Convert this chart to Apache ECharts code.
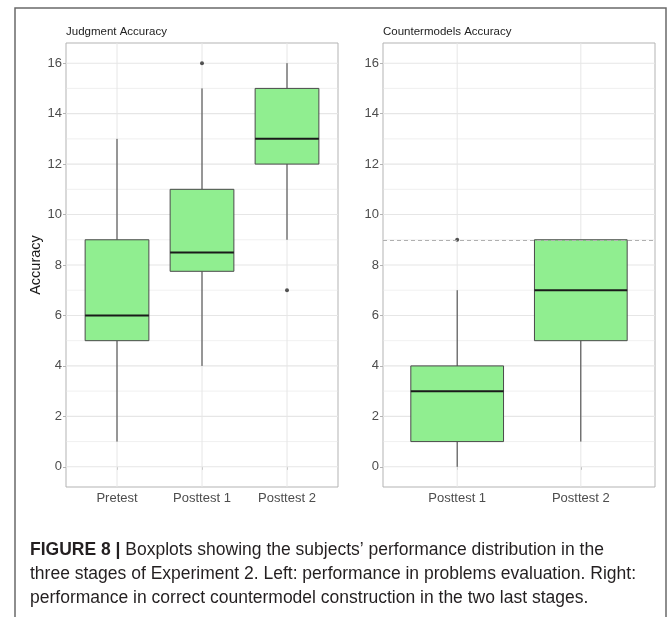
<!DOCTYPE html>
<html>
<head>
<meta charset="utf-8">
<script src="https://cdn.jsdelivr.net/npm/echarts@6/dist/echarts.min.js"></script>
<style>html,body{margin:0;padding:0;background:#fff;}#c{width:670px;height:617px;}</style>
</head>
<body>
<div id="c"></div>
<script>
// ---- data ----
const leftTitle = 'Judgment Accuracy';
const rightTitle = 'Countermodels Accuracy';
const leftCategories = ['Pretest', 'Posttest 1', 'Posttest 2'];
// [low whisker, Q1, median, Q3, high whisker]
const leftBoxes = [[1, 5, 6, 9, 13], [4, 7.75, 8.5, 11, 15], [9, 12, 13, 15, 16]];
const leftOutliers = [['Posttest 1', 16], ['Posttest 2', 7]];
const rightCategories = ['Posttest 1', 'Posttest 2'];
const rightBoxes = [[0, 1, 3, 4, 7], [1, 5, 7, 9, 9]];
const rightOutliers = [['Posttest 1', 9]];
const rightRefLine = 9;
const yTicks = [0, 2, 4, 6, 8, 10, 12, 14, 16];
const yMinorTicks = [1, 3, 5, 7, 9, 11, 13, 15];
const yAxisName = 'Accuracy';
const captionBold = 'FIGURE 8 |';
const captionLines = [
  ' Boxplots showing the subjects\u2019 performance distribution in the',
  'three stages of Experiment 2. Left: performance in problems evaluation. Right:',
  'performance in correct countermodel construction in the two last stages.'
];

// ---- layout / style ----
const FONT = '"Liberation Sans", Arial, Helvetica, sans-serif';
const Y_MIN = -0.8, Y_MAX = 16.8;
const GRID_COLOR = '#e6e6e6';
const BORDER_COLOR = '#b3b3b3';
const LABEL_COLOR = '#4d4d4d';

function xRange(cats) { return [0.4, cats.length + 0.6]; }

function hLineSeries(idx, values, xr, width) {
  return {
    type: 'custom', xAxisIndex: idx, yAxisIndex: idx, z: 1, silent: true,
    data: values.map(v => [v]),
    encode: { y: 0 },
    renderItem: function (params, api) {
      const v = api.value(0);
      const p1 = api.coord([xr[0], v]);
      const p2 = api.coord([xr[1], v]);
      return { type: 'line', shape: { x1: p1[0], y1: p1[1], x2: p2[0], y2: p2[1] },
        style: { stroke: GRID_COLOR, lineWidth: width } };
    }
  };
}
function vLineSeries(idx, n) {
  const d = [];
  for (let i = 1; i <= n; i++) d.push([i]);
  return {
    type: 'custom', xAxisIndex: idx, yAxisIndex: idx, z: 1, silent: true,
    data: d, encode: { x: 0 },
    renderItem: function (params, api) {
      const v = api.value(0);
      const p1 = api.coord([v, Y_MIN]);
      const p2 = api.coord([v, Y_MAX]);
      return { type: 'line', shape: { x1: p1[0], y1: p1[1], x2: p2[0], y2: p2[1] },
        style: { stroke: GRID_COLOR, lineWidth: 1 } };
    }
  };
}
function boxSeries(idx, boxes, extra) {
  const s = {
    type: 'custom', xAxisIndex: idx, yAxisIndex: idx, z: 3, silent: true,
    data: boxes.map((b, i) => [i + 1].concat(b)),
    encode: { x: 0, y: [1, 2, 3, 4, 5] },
    renderItem: function (params, api) {
      const x = api.value(0);
      const lo = api.coord([x, api.value(1)]);
      const q1 = api.coord([x, api.value(2)]);
      const md = api.coord([x, api.value(3)]);
      const q3 = api.coord([x, api.value(4)]);
      const hi = api.coord([x, api.value(5)]);
      const w = api.size([0.75, 0])[0];
      const cx = lo[0];
      const stroke = '#3a3a3a';
      return {
        type: 'group',
        children: [
          { type: 'line', shape: { x1: cx, y1: lo[1], x2: cx, y2: q1[1] }, style: { stroke: stroke, lineWidth: 1 } },
          { type: 'line', shape: { x1: cx, y1: q3[1], x2: cx, y2: hi[1] }, style: { stroke: stroke, lineWidth: 1 } },
          { type: 'rect', shape: { x: cx - w / 2, y: q3[1], width: w, height: q1[1] - q3[1] },
            style: { fill: '#90EE90', stroke: '#4a4a4a', lineWidth: 1 } },
          { type: 'line', shape: { x1: cx - w / 2, y1: md[1], x2: cx + w / 2, y2: md[1] },
            style: { stroke: '#1a1a1a', lineWidth: 2 } }
        ]
      };
    }
  };
  return Object.assign(s, extra || {});
}
function outlierSeries(idx, cats, outs) {
  return {
    type: 'scatter', xAxisIndex: idx, yAxisIndex: idx, z: 4, silent: true,
    symbol: 'circle', symbolSize: 4,
    itemStyle: { color: '#2a2a2a' },
    data: outs.map(o => [cats.indexOf(o[0]) + 1, o[1]])
  };
}
function xAxis(idx, cats) {
  const r = xRange(cats);
  const vals = cats.map((c, i) => i + 1);
  return {
    type: 'value', gridIndex: idx, min: r[0], max: r[1],
    axisLine: { show: false },
    splitLine: { show: false },
    axisTick: { show: true, length: 3, customValues: vals, lineStyle: { color: BORDER_COLOR } },
    axisLabel: { customValues: vals, margin: 5, color: LABEL_COLOR, fontSize: 13, fontFamily: FONT,
      formatter: v => cats[Math.round(v) - 1] || '' }
  };
}
function yAxis(idx, withName) {
  const a = {
    type: 'value', gridIndex: idx, min: Y_MIN, max: Y_MAX,
    axisLine: { show: false },
    splitLine: { show: false },
    axisTick: { show: true, length: 3, customValues: yTicks, lineStyle: { color: BORDER_COLOR } },
    axisLabel: { customValues: yTicks, margin: 4, color: LABEL_COLOR, fontSize: 13, fontFamily: FONT }
  };
  if (withName) {
    Object.assign(a, { name: yAxisName, nameLocation: 'middle', nameGap: 18,
      nameTextStyle: { color: '#1a1a1a', fontSize: 14.5, fontFamily: FONT } });
  }
  return a;
}

const gridCommon = { top: 43, height: 444, width: 272, show: true, backgroundColor: '#fff',
  borderColor: BORDER_COLOR, borderWidth: 1, containLabel: false };

const option = {
  animation: false,
  backgroundColor: '#fff',
  title: [
    { text: leftTitle, left: 66, top: 26, padding: 0, textStyle: { fontSize: 11.5, fontWeight: 'normal', color: '#222', fontFamily: FONT } },
    { text: rightTitle, left: 383, top: 26, padding: 0, textStyle: { fontSize: 11.5, fontWeight: 'normal', color: '#222', fontFamily: FONT } },
    { text: '{b|' + captionBold + '}' + captionLines.join('\n'), left: 30, top: 538, padding: 0,
      textStyle: { fontSize: 17.5, fontWeight: 'normal', color: '#231f20', fontFamily: FONT, lineHeight: 24,
        rich: { b: { fontSize: 17.5, fontWeight: 'bold', color: '#231f20', fontFamily: FONT, lineHeight: 24 } } } }
  ],
  graphic: [
    { type: 'rect', z: 100, silent: true, shape: { x: 15, y: 8, width: 651, height: 640 },
      style: { fill: 'none', stroke: '#6a6a6a', lineWidth: 1.5 } }
  ],
  grid: [
    Object.assign({ left: 66 }, gridCommon),
    Object.assign({ left: 383 }, gridCommon)
  ],
  xAxis: [xAxis(0, leftCategories), xAxis(1, rightCategories)],
  yAxis: [yAxis(0, true), yAxis(1, false)],
  series: [
    hLineSeries(0, yMinorTicks, xRange(leftCategories), 0.6),
    hLineSeries(0, yTicks, xRange(leftCategories), 1.1),
    vLineSeries(0, leftCategories.length),
    boxSeries(0, leftBoxes),
    outlierSeries(0, leftCategories, leftOutliers),
    hLineSeries(1, yMinorTicks, xRange(rightCategories), 0.6),
    hLineSeries(1, yTicks, xRange(rightCategories), 1.1),
    vLineSeries(1, rightCategories.length),
    boxSeries(1, rightBoxes, {
      markLine: { silent: true, symbol: 'none', label: { show: false },
        lineStyle: { type: [4, 3], color: '#b0b0b0', width: 1 },
        data: [{ yAxis: rightRefLine }] }
    }),
    outlierSeries(1, rightCategories, rightOutliers)
  ]
};

const chart = echarts.init(document.getElementById('c'), null, { renderer: 'canvas' });
chart.setOption(option);
</script>
</body>
</html>
